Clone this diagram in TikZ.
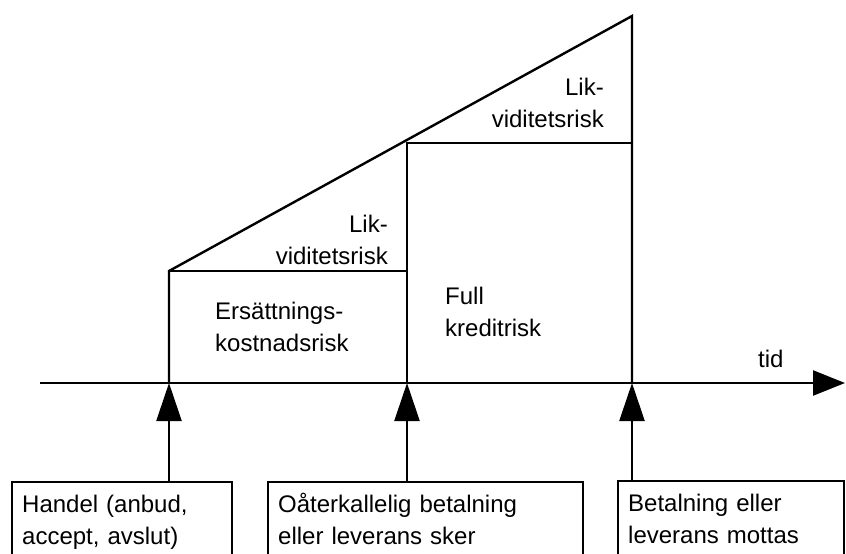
\documentclass[tikz,border=0pt]{standalone}
\usepackage{fontspec}
\setmainfont{Liberation Sans}
\usetikzlibrary{arrows.meta,positioning,calc}
\tikzset{
  line/.style={line width=2.4pt},
  box/.style={
    draw,
    line width=2.4pt,
    anchor=north west,
    align=left,
    inner xsep=10pt,
    inner ysep=0pt,
    text height=30pt,
    text depth=80pt,
    font=\fontsize{24}{32}\selectfont,
  },
  lbl/.style={inner sep=0pt, font=\fontsize{24}{32}\selectfont},
  uparr/.style={line width=2.4pt, -{Triangle[length=38pt, width=25pt]}},
  timearr/.style={line width=2.4pt, -{Triangle[length=32pt, width=25pt]}},
}

\begin{document}
\begin{tikzpicture}[x=1pt, y=-1pt]
  \useasboundingbox (0,0) rectangle (846,554);
  \clip (0,0) rectangle (846,554);

  % time axis and the three events
  \coordinate (start) at (40,383);
  \coordinate (end) at (845,383);
  \coordinate (t1) at (169,383);
  \coordinate (t2) at (407,383);
  \coordinate (t3) at (632,383);
  \coordinate (p1) at (169,271);
  \coordinate (q2) at (407,143);
  \coordinate (top) at (632,16);

  \draw[timearr] (start) -- (end);
  \node[lbl, anchor=base west] (tid) at (758,367) {tid};

  % risk areas
  \draw[line] (t1) -- (p1) -- (top) -- (t3);
  \draw[line] (p1) -- (p1 -| t2);
  \draw[line] (t2) -- (q2) -- (q2 -| t3);

  \node[lbl, anchor=base east, align=right] (lik1) at (388,264) {Lik-\\viditetsrisk};
  \node[lbl, anchor=base west, align=left] (ers) at (215,351) {Ersättnings-\\kostnadsrisk};
  \node[lbl, anchor=base west, align=left] (full) at (445,336) {Full\\kreditrisk};
  \node[lbl, anchor=base east, align=right] (lik2) at (604,127) {Lik-\\viditetsrisk};

  % events
  \node[box, text width=200pt] (handel) at (11,481) {Handel (anbud,\\accept, avslut)};
  \node[box, text width=295pt] (oater) at (267,481) {Oåterkallelig betalning\\eller leverans sker};
  \node[box, text width=206pt] (betal) at (617,480) {Betalning eller\\leverans mottas};

  \draw[uparr] (t1 |- handel.north) -- (t1);
  \draw[uparr] (t2 |- oater.north) -- (t2);
  \draw[uparr] (t3 |- betal.north) -- (t3);
\end{tikzpicture}
\end{document}
